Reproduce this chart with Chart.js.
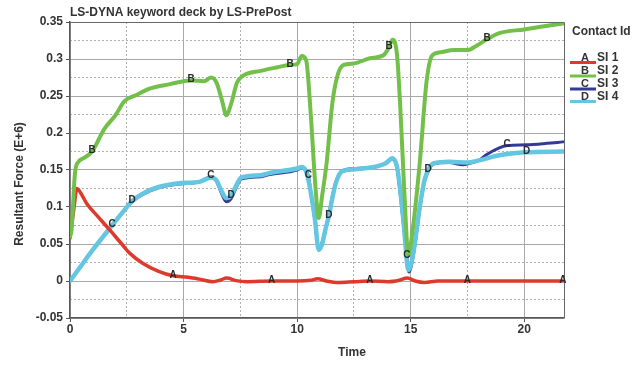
<!DOCTYPE html>
<html><head><meta charset="utf-8">
<script src="https://cdn.jsdelivr.net/npm/chart.js@4.4.0/dist/chart.umd.min.js"></script>
<style>html,body{margin:0;padding:0;background:#fff;}canvas{display:block}</style>
</head><body>
<canvas id="c" width="641" height="370"></canvas>
<script>
const chartTitle = "LS-DYNA keyword deck by LS-PrePost";
const xTitle = "Time";
const yTitle = "Resultant Force (E+6)";
const legendTitle = "Contact Id";
const seriesLetters = ["A", "B", "C", "D"];
const seriesNames = ["SI 1", "SI 2", "SI 3", "SI 4"];
const seriesColors = ["#dd3a2c", "#72c04a", "#333a98", "#64c6e0"];

const xTicks = [0, 5, 10, 15, 20];
const xTickLabels = ["0", "5", "10", "15", "20"];
const xMinorTicks = [2.5, 7.5, 12.5, 17.5];
const yTicks = [-0.05, 0, 0.05, 0.1, 0.15, 0.2, 0.25, 0.3, 0.35];
const yTickLabels = ["-0.05", "0", "0.05", "0.1", "0.15", "0.2", "0.25", "0.3", "0.35"];
const yMinorTicks = [-0.025, 0.025, 0.075, 0.125, 0.175, 0.225, 0.275, 0.325];
const xMin = 0, xMax = 21.75, yMin = -0.05, yMax = 0.35;

// Series A (SI 1)
const timeA = [0, 0.18, 0.3, 0.45, 0.75, 1.2, 1.75, 2.25, 2.65, 3.2, 3.9, 4.54, 5.2, 5.7, 6.3, 6.6, 6.9, 7.3, 7.8, 8.88, 10.0, 10.6, 10.9, 11.3, 11.8, 12.5, 13.2, 14.0, 14.5, 14.85, 15.2, 15.6, 16.2, 17.5, 21.7];
const forceA = [0.058, 0.1, 0.125, 0.12, 0.104, 0.088, 0.069, 0.051, 0.037, 0.024, 0.013, 0.007, 0.005, 0.0025, -0.001, 0.001, 0.004, 0.0005, -0.001, 0, 0, 0.001, 0.003, 0, -0.002, -0.001, 0, -0.001, 0.001, 0.004, 0, -0.002, 0, 0, 0];
const labelTimesA = [4.54, 8.88, 13.2, 17.5, 21.7];

// Series B (SI 2)
const timeB = [0, 0.07, 0.22, 0.37, 0.6, 0.97, 1.5, 2.0, 2.4, 2.9, 3.5, 4.4, 5.33, 5.9, 6.22, 6.45, 6.7, 6.88, 7.1, 7.35, 7.6, 8.4, 9.0, 9.69, 10.0, 10.2, 10.4, 10.6, 10.8, 10.95, 11.1, 11.3, 11.55, 11.78, 12.05, 12.5, 13.2, 13.8, 14.05, 14.2, 14.4, 14.55, 14.72, 14.9, 15.05, 15.4, 15.7, 15.95, 16.3, 16.9, 17.5, 17.9, 18.37, 18.9, 20.0, 20.8, 21.7];
const forceB = [0.06, 0.07, 0.146, 0.161, 0.166, 0.175, 0.205, 0.224, 0.243, 0.251, 0.26, 0.266, 0.271, 0.27, 0.275, 0.268, 0.243, 0.224, 0.24, 0.268, 0.277, 0.284, 0.288, 0.292, 0.293, 0.304, 0.298, 0.225, 0.13, 0.085, 0.115, 0.16, 0.24, 0.278, 0.292, 0.294, 0.301, 0.305, 0.316, 0.326, 0.305, 0.23, 0.12, 0.035, 0.06, 0.16, 0.27, 0.305, 0.309, 0.312, 0.312, 0.318, 0.327, 0.335, 0.34, 0.344, 0.348];
const labelTimesB = [0.97, 5.33, 9.69, 14.05, 18.37];

// Series C (SI 3)
const timeC = [0, 0.5, 1.0, 1.85, 2.35, 2.73, 3.2, 3.9, 4.8, 5.7, 6.2, 6.45, 6.65, 6.88, 7.09, 7.3, 7.55, 8.4, 8.8, 10.0, 10.2, 10.5, 10.62, 10.78, 10.95, 11.1, 11.25, 11.4, 11.55, 11.7, 11.97, 12.5, 13.4, 13.9, 14.2, 14.4, 14.55, 14.7, 14.83, 14.92, 15.1, 15.4, 15.6, 15.8, 16.0, 16.7, 17.3, 17.6, 18.0, 18.35, 18.9, 19.25, 20.1, 21.0, 21.7];
const forceC = [0, 0.021, 0.042, 0.075, 0.094, 0.107, 0.117, 0.126, 0.131, 0.134, 0.141, 0.135, 0.12, 0.107, 0.111, 0.125, 0.138, 0.141, 0.144, 0.15, 0.153, 0.141, 0.115, 0.083, 0.044, 0.052, 0.071, 0.09, 0.114, 0.133, 0.149, 0.152, 0.154, 0.159, 0.165, 0.152, 0.115, 0.07, 0.033, 0.012, 0.032, 0.098, 0.134, 0.15, 0.158, 0.16, 0.157, 0.159, 0.163, 0.171, 0.18, 0.183, 0.184, 0.186, 0.188];
const labelTimesC = [1.85, 6.2, 10.5, 14.83, 19.25];

// Series D (SI 4)
const timeD = [0, 0.5, 1.0, 1.85, 2.35, 2.73, 3.2, 3.9, 4.8, 5.7, 6.22, 6.45, 6.65, 6.88, 7.09, 7.3, 7.55, 8.4, 8.8, 10.0, 10.2, 10.42, 10.6, 10.78, 10.95, 11.1, 11.25, 11.4, 11.55, 11.7, 11.97, 12.5, 13.4, 13.9, 14.2, 14.4, 14.55, 14.7, 14.9, 15.1, 15.4, 15.6, 15.77, 16.0, 16.7, 17.5, 18.0, 18.9, 20.1, 21.7];
const forceD = [0, 0.021, 0.042, 0.075, 0.094, 0.108, 0.118, 0.127, 0.132, 0.134, 0.14, 0.136, 0.123, 0.112, 0.115, 0.128, 0.14, 0.143, 0.146, 0.152, 0.154, 0.146, 0.12, 0.085, 0.042, 0.05, 0.07, 0.088, 0.112, 0.132, 0.148, 0.151, 0.154, 0.159, 0.166, 0.154, 0.12, 0.075, 0.015, 0.035, 0.1, 0.135, 0.15, 0.159, 0.161, 0.16, 0.163, 0.17, 0.174, 0.175];
const labelTimesD = [2.73, 7.09, 11.4, 15.77, 20.1];

const FONT = "'Liberation Sans', Arial, sans-serif";

function pts(t, v) { return t.map((x, i) => ({ x: x, y: v[i] })); }

const seriesTimes = [timeA, timeB, timeC, timeD];
const seriesForces = [forceA, forceB, forceC, forceD];
const seriesLabelTimes = [labelTimesA, labelTimesB, labelTimesC, labelTimesD];
const seriesWidths = [3.5, 4, 3, 4.5];
const seriesOrder = [1, 0, 3, 2];

const datasets = seriesLetters.map((l, i) => ({
  label: l + " " + seriesNames[i],
  data: pts(seriesTimes[i], seriesForces[i]),
  borderColor: seriesColors[i],
  backgroundColor: seriesColors[i],
  borderWidth: seriesWidths[i],
  pointRadius: 0,
  fill: false,
  cubicInterpolationMode: 'monotone',
  order: seriesOrder[i],
  borderCapStyle: 'round',
  borderJoinStyle: 'round'
}));

const decorPlugin = {
  id: 'decor',
  afterDatasetsDraw(chart) {
    const ctx = chart.ctx;
    const a = chart.chartArea;
    ctx.save();
    ctx.strokeStyle = '#666';
    ctx.lineWidth = 1;
    ctx.beginPath();
    ctx.moveTo(a.left, a.top + 0.5);
    ctx.lineTo(a.right + 0.5, a.top + 0.5);
    ctx.lineTo(a.right + 0.5, a.bottom);
    ctx.stroke();
    ctx.font = "bold 10px " + FONT;
    ctx.fillStyle = '#2a2a2a';
    ctx.textAlign = 'center';
    ctx.textBaseline = 'middle';
    chart.data.datasets.forEach((ds, i) => {
      const meta = chart.getDatasetMeta(i);
      seriesLabelTimes[i].forEach(t => {
        const idx = ds.data.findIndex(p => p.x === t);
        if (idx >= 0) {
          const el = meta.data[idx];
          ctx.fillText(seriesLetters[i], el.x, el.y - 1);
        }
      });
    });
    ctx.restore();
  },
  afterDraw(chart) {
    const ctx = chart.ctx;
    ctx.save();
    ctx.fillStyle = '#333';
    ctx.font = "bold 12px " + FONT;
    ctx.textBaseline = 'middle';
    ctx.textAlign = 'left';
    ctx.fillText(chartTitle, 70, 13);
    ctx.fillText(legendTitle, 572, 32);
    ctx.textAlign = 'center';
    ctx.fillText(xTitle, 352, 353);
    ctx.save();
    ctx.translate(20, 184);
    ctx.rotate(-Math.PI / 2);
    ctx.fillText(yTitle, 0, 0);
    ctx.restore();
    const rowY = [62.5, 76, 89, 101.5];
    seriesLetters.forEach((l, i) => {
      const y = rowY[i];
      ctx.strokeStyle = seriesColors[i];
      ctx.lineWidth = 3;
      ctx.beginPath();
      ctx.moveTo(570, y);
      ctx.lineTo(596, y);
      ctx.stroke();
      ctx.fillStyle = '#333';
      ctx.font = "bold 11px " + FONT;
      ctx.textAlign = 'center';
      ctx.fillText(l, 585, y - 5);
      ctx.font = "bold 12px " + FONT;
      ctx.textAlign = 'left';
      ctx.fillText(seriesNames[i], 597, y - 5);
    });
    ctx.restore();
  }
};

new Chart(document.getElementById('c'), {
  type: 'line',
  data: { datasets: datasets },
  options: {
    responsive: false,
    animation: false,
    devicePixelRatio: 1,
    layout: { padding: { left: 0, top: 22, right: 77, bottom: 0 } },
    plugins: { legend: { display: false }, tooltip: { enabled: false }, title: { display: false } },
    scales: {
      x: {
        type: 'linear', min: xMin, max: xMax, position: 'bottom',
        afterBuildTicks: s => { s.ticks = xTicks.map(v => ({ value: v })); },
        afterFit: s => { s.height = 52; },
        ticks: { callback: (v, i) => xTickLabels[i], color: '#333', font: { family: FONT, size: 12, weight: 'bold' }, padding: 0, maxRotation: 0, autoSkip: false },
        grid: { color: '#a8a8a8', lineWidth: 1, drawTicks: true, tickLength: 4, tickColor: '#555' },
        border: { display: true, color: '#555', width: 1.5 }
      },
      x2: {
        type: 'linear', min: xMin, max: xMax, position: 'bottom',
        afterBuildTicks: s => { s.ticks = xMinorTicks.map(v => ({ value: v })); },
        afterFit: s => { s.height = 0; },
        ticks: { display: false },
        grid: { color: '#b0b0b0', lineWidth: 1, drawTicks: false },
        border: { display: false, dash: [2, 2] }
      },
      y: {
        type: 'linear', min: yMin, max: yMax, position: 'left',
        afterBuildTicks: s => { s.ticks = yTicks.map(v => ({ value: v })); },
        afterFit: s => { s.width = 70; },
        ticks: { callback: (v, i) => yTickLabels[i], color: '#333', font: { family: FONT, size: 12, weight: 'bold' }, padding: 3, autoSkip: false },
        grid: { color: '#a8a8a8', lineWidth: 1, drawTicks: true, tickLength: 4, tickColor: '#555' },
        border: { display: true, color: '#555', width: 1.5 }
      },
      y2: {
        type: 'linear', min: yMin, max: yMax, position: 'left',
        afterBuildTicks: s => { s.ticks = yMinorTicks.map(v => ({ value: v })); },
        afterFit: s => { s.width = 0; },
        ticks: { display: false },
        grid: { color: '#b0b0b0', lineWidth: 1, drawTicks: false },
        border: { display: false, dash: [2, 2] }
      }
    }
  },
  plugins: [decorPlugin]
});
</script>
</body></html>
